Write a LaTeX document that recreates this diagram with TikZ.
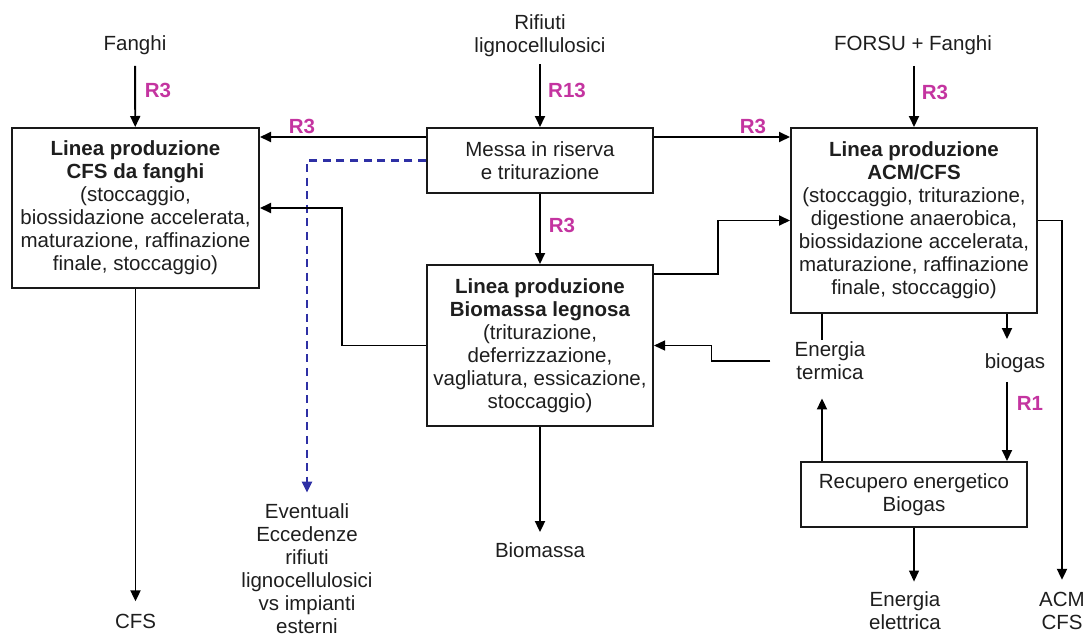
\documentclass[tikz,border=0pt]{standalone}
\usepackage{fontspec}
\setmainfont{Liberation Sans}
\usetikzlibrary{arrows.meta,calc}
\definecolor{rlabel}{RGB}{196,52,160}
\definecolor{dashblue}{RGB}{46,48,165}
\definecolor{ink}{RGB}{30,30,30}
\newcommand\dgfont{\fontsize{10.25pt}{11.5pt}\selectfont}
\begin{document}
\begin{tikzpicture}[x=0.5pt,y=-0.5pt,
  box/.style={draw=black!90, line width=1pt, inner sep=0pt, align=center,
              font=\dgfont, text=ink},
  lbl/.style={inner sep=1pt, align=center, font=\dgfont, text=ink},
  rl/.style={inner sep=0pt, text=rlabel, font=\dgfont\bfseries},
  tip/.style={-{Triangle[length=5.5pt,width=5pt]}},
  arr/.style={tip, line width=0.95pt, draw=black},
  thinarr/.style={tip, line width=0.6pt, draw=black},
  dasharr/.style={-{Triangle[length=5.5pt,width=5pt]}, draw=dashblue,
                  line width=1.3pt, dash pattern=on 4pt off 2.8pt}]
\useasboundingbox (0,0) rectangle (1087,633);

% process boxes
\node[box, minimum width=123.5pt, minimum height=80pt] (cfsline) at (135.5,208)
  {\textbf{Linea produzione}\\\textbf{CFS da fanghi}\\(stoccaggio,\\biossidazione accelerata,\\maturazione, raffinazione\\finale, stoccaggio)};
\node[box, minimum width=113pt, minimum height=32.5pt] (messa) at (540,160.5)
  {Messa in riserva\\e triturazione};
\node[box, minimum width=113pt, minimum height=80.5pt] (bio) at (540,345.5)
  {\textbf{Linea produzione}\\\textbf{Biomassa legnosa}\\(triturazione,\\deferrizzazione,\\vagliatura, essicazione,\\stoccaggio)};
\node[box, minimum width=123pt, minimum height=92.5pt] (acm) at (914,220.5)
  {\textbf{Linea produzione}\\\textbf{ACM/CFS}\\(stoccaggio, triturazione,\\digestione anaerobica,\\biossidazione accelerata,\\maturazione, raffinazione\\finale, stoccaggio)};
\node[box, minimum width=113pt, minimum height=32.5pt] (rec) at (914,494.5)
  {Recupero energetico\\Biogas};

% inputs and outputs
\node[lbl] (fanghi) at (135,45) {Fanghi};
\node[lbl] (rifiuti) at (540,36) {Rifiuti\\lignocellulosici};
\node[lbl] (forsu) at (913,45) {FORSU + Fanghi};
\node[lbl] (cfsout) at (135.5,621) {CFS};
\node[lbl] (biomout) at (540,550) {Biomassa};
\node[lbl] (evt) at (307,569) {Eventuali\\Eccedenze\\rifiuti\\lignocellulosici\\vs impianti\\esterni};
\node[lbl] (eterm) at (830,361) {Energia\\termica};
\node[lbl] (biogas) at (1015,363) {biogas};
\node[lbl] (eelet) at (905,611) {Energia\\elettrica};
\node[lbl] (acmout) at (1062,611) {ACM\\CFS};

% recovery codes
\node[rl] (r3a) at (158,90) {R3};
\node[rl] (r13) at (567,90) {R13};
\node[rl] (r3b) at (302,126) {R3};
\node[rl] (r3c) at (753,126) {R3};
\node[rl] (r3d) at (935,92) {R3};
\node[rl] (r3e) at (562,225) {R3};
\node[rl] (r1) at (1030,403) {R1};

% incoming flows
\draw[arr, shorten <=4.5pt] (fanghi) -- (cfsline);
\draw[arr, shorten <=2.5pt] (rifiuti) -- (messa);
\draw[arr, shorten <=4.5pt] (forsu.south -| acm.north) -- (acm.north);

% distribution from storage
\draw[arr] ([yshift=-5pt]messa.north west) -- ([yshift=-5pt]cfsline.north east);
\draw[arr] ([yshift=-5pt]messa.north east) -- ([yshift=-5pt]acm.north west);
\draw[arr] (messa) -- (bio);
\draw[dasharr, shorten >=4.5pt] (messa.west) -| (evt.north);

% wood biomass line
\draw[arr] (bio.west) -- ++(-42pt,0) |- (cfsline.east);
\draw[arr] ([yshift=-5pt]bio.north east) -- ++(32pt,0) |- (acm.west);
\draw[arr, shorten >=4pt] (bio) -- (biomout);

% products
\draw[arr, shorten >=5pt] (cfsline) -- (cfsline.south |- cfsout.north);
\draw[arr, shorten >=5pt] (acm.east) -| (acmout.north);

% biogas and energy
\draw[line width=0.95pt] ([xshift=-46pt]acm.south) -- ([xshift=-46pt]acm.south |- eterm.north);
\draw[arr, shorten >=6pt] ([xshift=46.5pt]acm.south) -- ([xshift=46.5pt]acm.south |- biogas.north);
\draw[arr, shorten <=3.5pt] ([xshift=46.5pt]acm.south |- biogas.south) -- ([xshift=46.5pt]rec.north);
\draw[arr, shorten >=8pt] ([xshift=-46pt]rec.north) -- ([xshift=-46pt]rec.north |- eterm.south);
\draw[thinarr, shorten >=4pt] (rec.south) -- (rec.south |- eelet.north);
\draw[thinarr, shorten <=11pt] (eterm.west) -- ++(-40.5pt,0) |- (bio.east);
\end{tikzpicture}
\end{document}
